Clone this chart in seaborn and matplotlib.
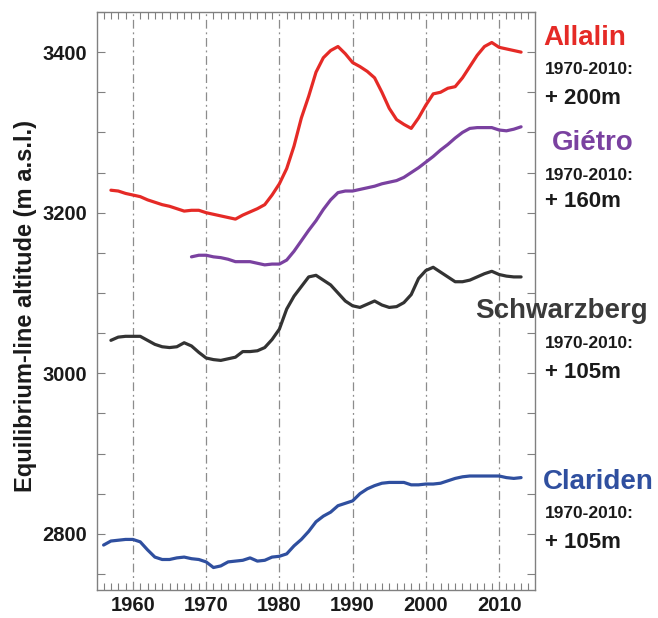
import numpy as np
import pandas as pd
import matplotlib
matplotlib.use("Agg")
import matplotlib.pyplot as plt
from matplotlib.ticker import MultipleLocator
import seaborn as sns

# ---------------- data ----------------
allalin_years = list(range(1957, 2014))
allalin_ela = [3228, 3227, 3224, 3222, 3220, 3216, 3213, 3210, 3208, 3205,
               3202, 3203, 3203, 3200, 3198, 3196, 3194, 3192, 3197, 3201,
               3205, 3210, 3222, 3236, 3255, 3283, 3318, 3345, 3375, 3393,
               3402, 3407, 3398, 3387, 3382, 3376, 3368, 3350, 3330, 3316,
               3310, 3305, 3318, 3334, 3348, 3350, 3355, 3357, 3368, 3382,
               3396, 3407, 3412, 3406, 3404, 3402, 3400]

gietro_years = list(range(1968, 2014))
gietro_ela = [3145, 3147, 3147, 3145, 3144, 3142, 3139, 3139, 3139, 3137,
              3135, 3136, 3136, 3141, 3152, 3165, 3178, 3190, 3204, 3216,
              3225, 3227, 3227, 3229, 3231, 3233, 3236, 3238, 3240, 3244,
              3250, 3256, 3263, 3270, 3278, 3285, 3293, 3300, 3305, 3306,
              3306, 3306, 3303, 3302, 3304, 3307]

schwarzberg_years = list(range(1957, 2014))
schwarzberg_ela = [3041, 3045, 3046, 3046, 3046, 3041, 3036, 3033, 3032, 3033,
                   3038, 3034, 3026, 3019, 3017, 3016, 3018, 3020, 3027, 3027,
                   3028, 3032, 3042, 3055, 3080, 3096, 3108, 3120, 3122, 3116,
                   3110, 3100, 3090, 3084, 3082, 3086, 3090, 3085, 3082, 3083,
                   3088, 3098, 3118, 3128, 3132, 3126, 3120, 3114, 3114, 3116,
                   3120, 3124, 3127, 3123, 3121, 3120, 3120]

clariden_years = list(range(1956, 2014))
clariden_ela = [2786, 2791, 2792, 2793, 2793, 2790, 2780, 2771, 2768, 2768,
                2770, 2771, 2769, 2768, 2765, 2758, 2760, 2765, 2766, 2767,
                2770, 2766, 2767, 2771, 2772, 2775, 2785, 2793, 2803, 2815,
                2822, 2827, 2835, 2838, 2841, 2850, 2856, 2860, 2863, 2864,
                2864, 2864, 2861, 2861, 2862, 2862, 2863, 2866, 2869, 2871,
                2872, 2872, 2872, 2872, 2872, 2870, 2869, 2870]

glaciers = ["Allalin", "Giétro", "Schwarzberg", "Clariden"]
changes = ["+ 200m", "+ 160m", "+ 105m", "+ 105m"]
period_label = "1970-2010:"
x_ticks = [1960, 1970, 1980, 1990, 2000, 2010]
y_ticks = [2800, 3000, 3200, 3400]

colors = {"Allalin": "#e52a26", "Giétro": "#7a41a0",
          "Schwarzberg": "#333333", "Clariden": "#2f4f9f"}
label_colors = {"Allalin": "#e52a26", "Giétro": "#7a41a0",
                "Schwarzberg": "#3a3a3a", "Clariden": "#2f4f9f"}

frames = []
for name, yrs, vals in [("Allalin", allalin_years, allalin_ela),
                        ("Giétro", gietro_years, gietro_ela),
                        ("Schwarzberg", schwarzberg_years, schwarzberg_ela),
                        ("Clariden", clariden_years, clariden_ela)]:
    frames.append(pd.DataFrame({"year": yrs, "ela": vals, "glacier": name}))
df = pd.concat(frames, ignore_index=True)

# ---------------- plot ----------------
sns.set_style("white")
plt.rcParams["font.family"] = ["Liberation Sans", "DejaVu Sans"]
plt.rcParams["font.weight"] = "bold"

fig = plt.figure(figsize=(6.58, 6.18), dpi=100)
ax = fig.add_axes([97 / 658, 1 - 590 / 618, (535 - 97) / 658, (590 - 12) / 618])

sns.lineplot(data=df, x="year", y="ela", hue="glacier", palette=colors,
             hue_order=glaciers, linewidth=2.3, legend=False, ax=ax)

ax.set_xlim(1955.1, 2014.9)
ax.set_ylim(2730, 3450)
ax.set_xticks(x_ticks)
ax.set_yticks(y_ticks)
ax.xaxis.set_minor_locator(MultipleLocator(1))
ax.yaxis.set_minor_locator(MultipleLocator(50))

spine_col = "#808080"
for s in ax.spines.values():
    s.set_color(spine_col)
    s.set_linewidth(1.0)
    s.set_visible(True)

ax.tick_params(axis="both", which="both", direction="in", colors=spine_col,
               top=True, right=True, bottom=True, left=True)
ax.tick_params(axis="x", which="major", length=0, labelsize=14.5,
               labelcolor="#1a1a1a", pad=4)
ax.tick_params(axis="x", which="minor", length=5, width=0.8)
ax.tick_params(axis="y", which="major", length=6, width=0.8, labelsize=14.5,
               labelcolor="#1a1a1a", pad=7)
ax.tick_params(axis="y", which="minor", length=6, width=0.8)
for lab in ax.get_xticklabels() + ax.get_yticklabels():
    lab.set_fontweight("bold")

for xv in x_ticks:
    ax.axvline(xv, color="#8c8c8c", linestyle=(0, (7, 3, 1.5, 3)),
               linewidth=0.9, zorder=0)

ax.set_xlabel("")
ax.set_ylabel("Equilibrium-line altitude (m a.s.l.)", fontsize=17,
              fontweight="bold", color="#1a1a1a")
ax.yaxis.set_label_coords(-0.137, 0.491)

# right-hand annotations (figure pixel coords converted)
def fx(px):
    return px / 658

def fy(py):
    return 1 - py / 618

label_pos = [(585, 38, 70, 98), (593, 143, 175, 201),
             (561, 311, 343, 372), (598, 482, 514, 543)]
for name, chg, (cx, yn, yp, yc) in zip(glaciers, changes, label_pos):
    fig.text(fx(cx), fy(yn), name, color=label_colors[name], fontsize=20,
             fontweight="bold", ha="center", va="center")
    fig.text(fx(545), fy(yp), period_label, color="#1a1a1a", fontsize=12.5,
             fontweight="bold", ha="left", va="center")
    fig.text(fx(545), fy(yc), chg, color="#1a1a1a", fontsize=16,
             fontweight="bold", ha="left", va="center")

fig.savefig("out.png", dpi=100)
